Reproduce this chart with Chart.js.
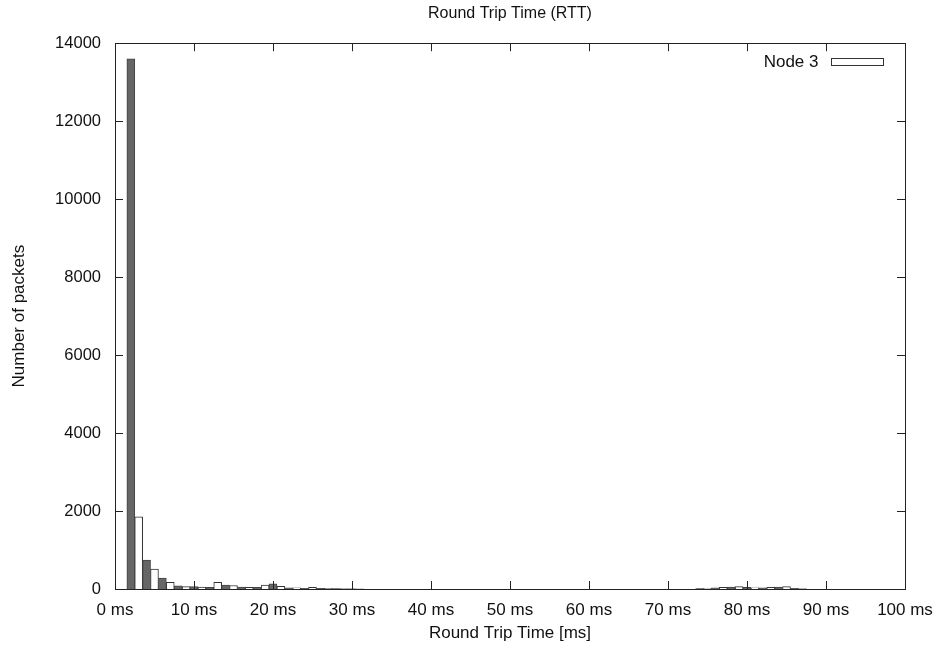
<!DOCTYPE html>
<html>
<head>
<meta charset="utf-8">
<script src="https://cdn.jsdelivr.net/npm/chart.js@4.4.1/dist/chart.umd.min.js"></script>
<style>
  html, body { margin: 0; padding: 0; background: #fff; }
  #wrap { width: 938px; height: 649px; }
</style>
</head>
<body>
<div id="wrap"><canvas id="rttChart"></canvas></div>
<script>
// RTT histogram, 1 ms bins. Even bins are shaded, odd bins are outlined.
let grayMs     = [2, 4, 6, 8, 10, 12, 14, 16, 18, 20, 22, 24, 26, 28, 30, 74, 76, 78, 80, 82, 84, 86];
let grayCounts = [13600, 740, 280, 80, 60, 40, 100, 50, 40, 130, 30, 20, 15, 10, 5, 10, 30, 50, 40, 30, 50, 20];
let whiteMs     = [3, 5, 7, 9, 11, 13, 15, 17, 19, 21, 23, 25, 27, 29, 31, 75, 77, 79, 81, 83, 85, 87];
let whiteCounts = [1850, 510, 170, 60, 50, 170, 90, 40, 100, 70, 30, 40, 15, 10, 5, 20, 40, 60, 30, 40, 60, 10];

let xMin = 0, xMax = 100, xStep = 10;
let yMin = 0, yMax = 14000, yStep = 2000;

const font = "'Liberation Sans', Arial, Helvetica, sans-serif";
const ink = '#111';

// gnuplot style border with inward ticks on all four sides
const frame = {
  id: 'frame',
  afterDatasetsDraw(chart) {
    const { ctx, chartArea: a, scales: { x, y } } = chart;
    const len = 8;
    ctx.save();
    ctx.strokeStyle = '#222';
    ctx.lineWidth = 1;
    ctx.beginPath();
    x.ticks.forEach(t => {
      const px = Math.round(x.getPixelForValue(t.value)) + 0.5;
      ctx.moveTo(px, a.bottom); ctx.lineTo(px, a.bottom - len);
      ctx.moveTo(px, a.top); ctx.lineTo(px, a.top + len);
    });
    y.ticks.forEach(t => {
      const py = Math.round(y.getPixelForValue(t.value)) + 0.5;
      ctx.moveTo(a.left, py); ctx.lineTo(a.left + len, py);
      ctx.moveTo(a.right, py); ctx.lineTo(a.right - len, py);
    });
    ctx.stroke();
    ctx.strokeRect(Math.round(a.left) + 0.5, Math.round(a.top) + 0.5,
                   Math.round(a.right - a.left), Math.round(a.bottom - a.top));
    ctx.restore();
  }
};

// key in the top right corner: title first, sample box after it
const key = {
  id: 'key',
  afterDatasetsDraw(chart) {
    const { ctx, chartArea: a } = chart;
    const ds = chart.data.datasets[1];
    const boxW = 52, boxH = 7;
    const boxX = Math.round(a.right - 22 - boxW) + 0.5;
    const boxY = Math.round(a.top + 15) + 0.5;
    ctx.save();
    ctx.fillStyle = ds.backgroundColor;
    ctx.strokeStyle = ds.borderColor;
    ctx.lineWidth = 1;
    ctx.fillRect(boxX, boxY, boxW, boxH);
    ctx.strokeRect(boxX, boxY, boxW, boxH);
    ctx.fillStyle = ink;
    ctx.font = '17px ' + font;
    ctx.textAlign = 'right';
    ctx.textBaseline = 'middle';
    ctx.fillText(ds.label, boxX - 13, boxY + boxH / 2);
    ctx.restore();
  }
};

new Chart('rttChart', {
  type: 'bar',
  data: {
    datasets: [{
      label: '',
      data: grayMs.map((ms, i) => ({ x: ms, y: grayCounts[i] })),
      backgroundColor: '#666',
      borderColor: '#444',
      borderWidth: 1,
      grouped: false,
      barPercentage: 1,
      categoryPercentage: 1
    }, {
      label: 'Node 3',
      data: whiteMs.map((ms, i) => ({ x: ms, y: whiteCounts[i] })),
      backgroundColor: '#fff',
      borderColor: '#333',
      borderWidth: 1,
      grouped: false,
      barPercentage: 1,
      categoryPercentage: 1
    }]
  },
  options: {
    responsive: true,
    maintainAspectRatio: false,
    animation: false,
    layout: { padding: { right: 33 } },
    plugins: {
      title: {
        display: true,
        fullSize: false,
        text: 'Round Trip Time (RTT)',
        color: ink,
        font: { family: font, size: 16, weight: 'normal' },
        padding: { top: 4, bottom: 20 }
      },
      legend: { display: false },
      tooltip: { enabled: false }
    },
    scales: {
      x: {
        type: 'linear',
        min: xMin,
        max: xMax,
        offset: false,
        grid: { display: false, offset: false },
        border: { display: false },
        ticks: {
          stepSize: xStep,
          color: ink,
          padding: 3,
          maxRotation: 0,
          font: { family: font, size: 17 },
          callback: v => v + ' ms'
        },
        title: {
          display: true,
          text: 'Round Trip Time [ms]',
          color: ink,
          font: { family: font, size: 17 },
          padding: { top: 2, bottom: 5 }
        },
        afterFit: s => { s.height = 60; }
      },
      y: {
        min: yMin,
        max: yMax,
        grid: { display: false },
        border: { display: false },
        ticks: {
          stepSize: yStep,
          color: ink,
          padding: 6,
          font: { family: font, size: 16.5 },
          callback: v => String(v)
        },
        title: {
          display: true,
          text: 'Number of packets',
          color: ink,
          font: { family: font, size: 17 },
          padding: { top: 9, bottom: 4 }
        },
        afterFit: s => { s.width = 115; }
      }
    }
  },
  plugins: [frame, key]
});
</script>
</body>
</html>
